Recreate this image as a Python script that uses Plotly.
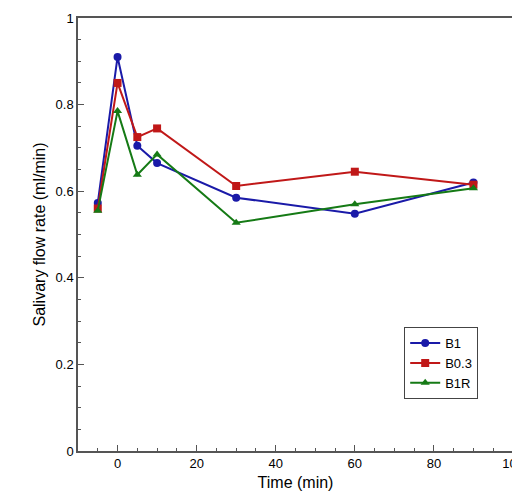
import plotly.graph_objects as go

time = [-5, 0, 5, 10, 30, 60, 90]
b1 = [0.573, 0.91, 0.705, 0.665, 0.585, 0.548, 0.62]
b03 = [0.56, 0.85, 0.725, 0.745, 0.612, 0.645, 0.615]
b1r = [0.555, 0.785, 0.638, 0.685, 0.527, 0.57, 0.607]

fig = go.Figure()
for name, y, col, sym in [("B1", b1, "#1a1aa8", "circle"), ("B0.3", b03, "#c01818", "square"), ("B1R", b1r, "#157a15", "triangle-up")]:
    fig.add_trace(go.Scatter(x=time, y=y, name=name, mode="lines+markers",
                             line=dict(color=col, width=2), marker=dict(color=col, symbol=sym, size=8)))

ax = dict(showline=True, linecolor="#555", linewidth=1.5, mirror=True, ticks="inside", ticklen=6,
          tickcolor="#555", showgrid=False, zeroline=False, automargin=False,
          minor=dict(ticks="inside", ticklen=3, tickcolor="#555"))
fig.update_xaxes(ax, range=[-10, 100], dtick=20, minor_dtick=5, title=dict(text="Time (min)", standoff=6))
fig.update_yaxes(ax, range=[0, 1], minor_dtick=0.05, title=dict(text="Salivary flow rate (ml/min)", standoff=6),
                 tickvals=[0, 0.2, 0.4, 0.6, 0.8, 1], ticktext=["0", "0.2", "0.4", "0.6", "0.8", "1"])
fig.update_layout(width=520, height=501, margin=dict(l=70, r=15, t=10, b=58, autoexpand=False),
                  plot_bgcolor="white", paper_bgcolor="white",
                  font=dict(family="Liberation Sans, Arial", size=13, color="black"),
                  legend=dict(x=0.92, y=0.12, xanchor="right", yanchor="bottom", bordercolor="#444", borderwidth=1,
                              bgcolor="white", itemwidth=30),
                  showlegend=True)
fig.write_html("out.html")
